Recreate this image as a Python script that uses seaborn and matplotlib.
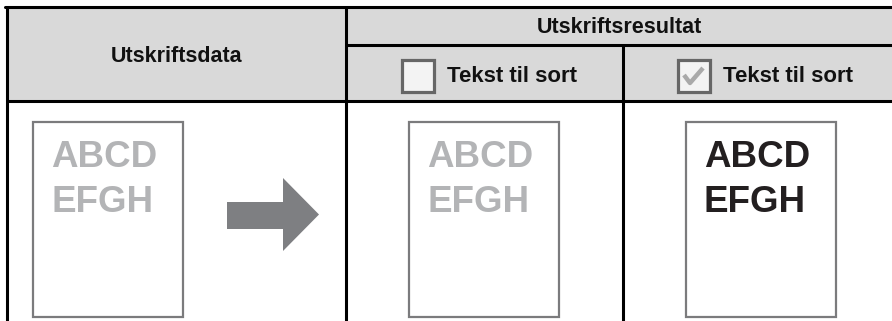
import matplotlib
matplotlib.use("Agg")
import matplotlib.pyplot as plt
import seaborn as sns
from matplotlib.patches import Rectangle, Polygon

# text content
left_header = "Utskriftsdata"
right_header = "Utskriftsresultat"
option_labels = ["Tekst til sort", "Tekst til sort"]
option_checked = [False, True]
page_lines = ["ABCD", "EFGH"]
page_text_colors = ["#b3b4b6", "#b3b4b6", "#231f20"]

# layout (pixel units, y grows downward)
table_left, table_right = 6.5, 892
table_top, table_bottom = 7, 321
col_edges = [6.5, 346, 623]
header_split_y = 44.5
header_bottom_y = 100.5
page_lefts = [33, 409, 686]
page_top, page_bottom, page_width = 121.5, 316.5, 150
checkbox_lefts = [400, 676]
checkbox_top, checkbox_size = 58, 35

HEADER_BG = "#d9d9d9"
LINE = "#000000"
PAGE_EDGE = "#7b7b7d"
ARROW = "#7e7f82"


def draw_page(ax, x0, color):
    ax.add_patch(Rectangle((x0, page_top), page_width, page_bottom - page_top,
                           facecolor="white", edgecolor=PAGE_EDGE, lw=1.6, zorder=2))
    for i, line in enumerate(page_lines):
        ax.text(x0 + 18, 167 + i * 45, line, color=color, fontsize=26.5,
                fontweight="bold", ha="left", va="baseline", zorder=3)


def draw_checkbox(ax, x0, checked):
    ax.add_patch(Rectangle((x0 + 1.5, checkbox_top + 1.5), checkbox_size - 3, checkbox_size - 3,
                           facecolor="#f3f3f3", edgecolor="#666666", lw=2.3, zorder=3))
    if checked:
        ax.plot([x0 + 8, x0 + 14, x0 + 27], [checkbox_top + 17, checkbox_top + 25, checkbox_top + 10],
                color="#a9a9a9", lw=3.2, solid_capstyle="butt", zorder=4)


sns.set_theme(style="white")
plt.rcParams["font.family"] = ["Liberation Sans", "DejaVu Sans"]

fig = plt.figure(figsize=(8.92, 3.21), dpi=100)
ax = fig.add_axes([0, 0, 1, 1])
ax.set_xlim(0, 892)
ax.set_ylim(321, 0)
ax.axis("off")

# header background
ax.add_patch(Rectangle((table_left, table_top), table_right - table_left,
                       header_bottom_y - table_top, facecolor=HEADER_BG, edgecolor="none", zorder=1))

# grid lines
lw = 2.2
ax.plot([table_left - 1.5, table_right], [table_top, table_top], color=LINE, lw=lw, zorder=5)
ax.plot([col_edges[1], table_right], [header_split_y, header_split_y], color=LINE, lw=lw, zorder=5)
ax.plot([table_left, table_right], [header_bottom_y, header_bottom_y], color=LINE, lw=lw, zorder=5)
ax.plot([col_edges[0], col_edges[0]], [table_top, table_bottom], color=LINE, lw=lw, zorder=5)
ax.plot([col_edges[1], col_edges[1]], [table_top, table_bottom], color=LINE, lw=lw, zorder=5)
ax.plot([col_edges[2], col_edges[2]], [header_split_y, table_bottom], color=LINE, lw=lw, zorder=5)

# header texts
ax.text((col_edges[0] + col_edges[1]) / 2, 62, left_header, fontsize=15.5,
        fontweight="bold", ha="center", va="baseline", color="#111111", zorder=6)
ax.text((col_edges[1] + table_right) / 2, 33, right_header, fontsize=15.5,
        fontweight="bold", ha="center", va="baseline", color="#111111", zorder=6)
for x0, label, checked in zip(checkbox_lefts, option_labels, option_checked):
    draw_checkbox(ax, x0, checked)
    ax.text(x0 + 47, 82, label, fontsize=16, fontweight="bold",
            ha="left", va="baseline", color="#111111", zorder=6)

# pages
for x0, color in zip(page_lefts, page_text_colors):
    draw_page(ax, x0, color)

# arrow
ax.add_patch(Polygon([(227, 202), (283, 202), (283, 178), (319, 214.5),
                      (283, 251), (283, 229), (227, 229)],
                     closed=True, facecolor=ARROW, edgecolor="none", zorder=2))

fig.savefig("out.png", dpi=100)
